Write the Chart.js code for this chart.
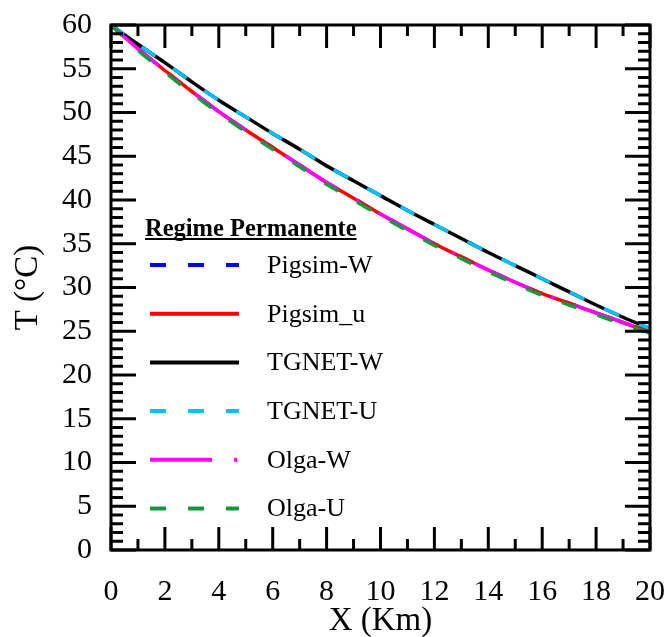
<!DOCTYPE html>
<html>
<head>
<meta charset="utf-8">
<script src="https://cdn.jsdelivr.net/npm/chart.js@4.4.1/dist/chart.umd.min.js"></script>
<style>
  html, body { margin: 0; padding: 0; background: #fff; }
  #wrap { width: 666px; height: 637px; }
</style>
</head>
<body>
<div id="wrap"><canvas id="chart" width="666" height="637"></canvas></div>
<script>
// distance along the pipe (km)
const xKm = [0, 1, 2, 3, 4, 5, 6, 7, 8, 9, 10, 11, 12, 13, 14, 15, 16, 17, 18, 19, 20];

// temperature (°C)
const pigsimW = [60, 57.3, 54.8, 52.4, 50.1, 48.0, 46.0, 44.0, 42.0, 40.2, 38.4, 36.7, 35.0, 33.5, 32.0, 30.6, 29.3, 28.2, 27.1, 26.0, 24.9];
const pigsimU = [60, 57.3, 54.8, 52.4, 50.1, 48.0, 46.0, 44.0, 42.0, 40.2, 38.4, 36.7, 35.0, 33.5, 32.0, 30.6, 29.3, 28.2, 27.1, 26.0, 24.9];
const tgnetW  = [60, 57.8, 55.7, 53.5, 51.4, 49.5, 47.6, 45.8, 43.9, 42.2, 40.5, 38.8, 37.2, 35.6, 34.0, 32.5, 31.0, 29.5, 28.0, 26.6, 25.3];
const tgnetU  = [60, 57.8, 55.7, 53.5, 51.4, 49.5, 47.6, 45.8, 43.9, 42.2, 40.5, 38.8, 37.2, 35.6, 34.0, 32.5, 31.0, 29.5, 28.0, 26.6, 25.3];
const olgaW   = [60, 57.3, 54.8, 52.4, 50.1, 48.0, 46.0, 44.0, 42.0, 40.2, 38.4, 36.7, 35.0, 33.5, 32.0, 30.6, 29.3, 28.2, 27.1, 26.0, 24.9];
const olgaU   = [60, 57.1, 54.6, 52.2, 49.9, 47.8, 45.8, 43.8, 41.8, 40.0, 38.2, 36.5, 34.8, 33.3, 31.8, 30.4, 29.1, 28.0, 26.9, 25.8, 24.8];

const seriesNames = ['Pigsim-W', 'Pigsim_u', 'TGNET-W', 'TGNET-U', 'Olga-W', 'Olga-U'];
const legendTitle = 'Regime Permanente';

const serif = '"Liberation Serif", "Times New Roman", serif';

function pts(ys) {
  return xKm.map((x, i) => ({ x: x, y: ys[i] }));
}

const styles = [
  { color: '#0000ff', dash: [16, 22] },
  { color: '#ff0000', dash: [] },
  { color: '#000000', dash: [] },
  { color: '#00c0ff', dash: [16, 22] },
  { color: '#ff00ff', dash: [62, 22, 3, 22] },
  { color: '#119a3c', dash: [16, 22] }
];
const values = [pigsimW, pigsimU, tgnetW, tgnetU, olgaW, olgaU];

const datasets = values.map((ys, i) => ({
  label: seriesNames[i],
  data: pts(ys),
  borderColor: styles[i].color,
  backgroundColor: styles[i].color,
  borderDash: styles[i].dash,
  borderWidth: 3.5,
  pointRadius: 0,
  tension: 0.3,
  fill: false,
  order: 10 - i // later series drawn on top
}));

// frame, inward ticks on all four sides, and the legend box
const framePlugin = {
  id: 'frame',
  afterDatasetsDraw(chart) {
    const { ctx, chartArea: a, scales: { x, y } } = chart;
    ctx.save();
    ctx.strokeStyle = '#000';
    ctx.lineWidth = 3;
    ctx.lineCap = 'butt';
    ctx.strokeRect(a.left, a.top, a.right - a.left, a.bottom - a.top);
    ctx.beginPath();
    for (let v = 0; v <= 20; v += 1) {
      const px = x.getPixelForValue(v);
      const len = v % 2 === 0 ? 23 : 11;
      ctx.moveTo(px, a.bottom); ctx.lineTo(px, a.bottom - len);
      ctx.moveTo(px, a.top); ctx.lineTo(px, a.top + len);
    }
    for (let v = 0; v <= 60; v += 1) {
      const py = y.getPixelForValue(v);
      const len = v % 5 === 0 ? 25 : 12;
      ctx.moveTo(a.left, py); ctx.lineTo(a.left + len, py);
      ctx.moveTo(a.right, py); ctx.lineTo(a.right - len, py);
    }
    ctx.stroke();

    // legend
    ctx.fillStyle = '#000';
    ctx.font = 'bold 24.5px ' + serif;
    ctx.textBaseline = 'alphabetic';
    ctx.textAlign = 'left';
    ctx.fillText(legendTitle, 145, 236);
    const tw = ctx.measureText(legendTitle).width;
    ctx.fillRect(145, 238, tw, 2);

    ctx.font = '26px ' + serif;
    ctx.textBaseline = 'middle';
    chart.data.datasets.forEach((ds, i) => {
      const yy = 265 + i * 48.7;
      ctx.beginPath();
      ctx.strokeStyle = ds.borderColor;
      ctx.lineWidth = 4;
      ctx.lineDashOffset = 0;
      ctx.setLineDash(ds.borderDash);
      ctx.moveTo(150, yy);
      ctx.lineTo(239, yy);
      ctx.stroke();
      ctx.setLineDash([]);
      ctx.fillStyle = '#000';
      ctx.fillText(ds.label, 267, yy + 1);
    });
    ctx.restore();
  }
};

new Chart(document.getElementById('chart'), {
  type: 'line',
  data: { datasets },
  options: {
    responsive: false,
    animation: false,
    layout: { padding: { top: 25, right: 16, left: 0, bottom: 0 } },
    plugins: {
      legend: { display: false },
      tooltip: { enabled: false }
    },
    scales: {
      x: {
        type: 'linear',
        min: 0,
        max: 20,
        afterFit(scale) {
          scale.height = 87;
          scale.paddingLeft = 0;
          scale.paddingRight = 0;
        },
        grid: { display: false, drawTicks: false },
        border: { display: false },
        ticks: {
          stepSize: 2,
          padding: 24,
          color: '#000',
          font: { family: serif, size: 30 }
        },
        title: {
          display: true,
          text: 'X (Km)',
          color: '#000',
          font: { family: serif, size: 33, lineHeight: 0.95 },
          padding: { top: 0, bottom: 0 }
        }
      },
      y: {
        type: 'linear',
        min: 0,
        max: 60,
        afterFit(scale) {
          scale.width = 111;
          scale.paddingTop = 0;
          scale.paddingBottom = 0;
        },
        grid: { display: false, drawTicks: false },
        border: { display: false },
        ticks: {
          stepSize: 5,
          padding: 19,
          color: '#000',
          font: { family: serif, size: 30 }
        },
        title: {
          display: true,
          text: 'T (°C)',
          color: '#000',
          font: { family: serif, size: 33, lineHeight: 1 },
          padding: { top: 12, bottom: 0 }
        }
      }
    }
  },
  plugins: [framePlugin]
});
</script>
</body>
</html>
